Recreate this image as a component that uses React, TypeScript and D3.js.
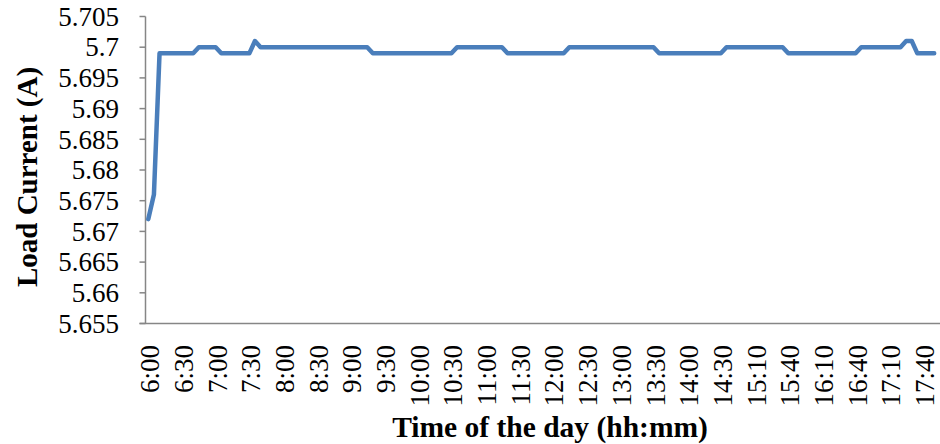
import React from "react";
import * as d3 from "d3";

// Load current readings (A), one per sample, in order
const loadCurrent: number[] = [
  5.672, 5.676,
  5.699, 5.699, 5.699, 5.699, 5.699, 5.699, 5.699,
  5.7, 5.7, 5.7, 5.7,
  5.699, 5.699, 5.699, 5.699, 5.699, 5.699,
  5.701,
  5.7, 5.7, 5.7, 5.7, 5.7, 5.7, 5.7, 5.7, 5.7, 5.7,
  5.7, 5.7, 5.7, 5.7, 5.7, 5.7, 5.7, 5.7, 5.7, 5.7,
  5.699, 5.699, 5.699, 5.699, 5.699, 5.699, 5.699, 5.699,
  5.699, 5.699, 5.699, 5.699, 5.699, 5.699, 5.699,
  5.7, 5.7, 5.7, 5.7, 5.7, 5.7, 5.7, 5.7, 5.7,
  5.699, 5.699, 5.699, 5.699, 5.699, 5.699, 5.699, 5.699, 5.699, 5.699, 5.699,
  5.7, 5.7, 5.7, 5.7, 5.7, 5.7, 5.7, 5.7,
  5.7, 5.7, 5.7, 5.7, 5.7, 5.7, 5.7, 5.7,
  5.699, 5.699, 5.699, 5.699, 5.699, 5.699,
  5.699, 5.699, 5.699, 5.699, 5.699, 5.699,
  5.7, 5.7, 5.7, 5.7, 5.7, 5.7, 5.7, 5.7, 5.7, 5.7, 5.7,
  5.699, 5.699, 5.699, 5.699, 5.699, 5.699, 5.699,
  5.699, 5.699, 5.699, 5.699, 5.699, 5.699,
  5.7, 5.7, 5.7, 5.7, 5.7, 5.7, 5.7, 5.7,
  5.701, 5.701,
  5.699, 5.699, 5.699, 5.699,
];

// Category labels shown on the x axis (every 6th sample)
const timeLabels: string[] = [
  "6:00", "6:30", "7:00", "7:30", "8:00", "8:30", "9:00", "9:30",
  "10:00", "10:30", "11:00", "11:30", "12:00", "12:30", "13:00", "13:30",
  "14:00", "14:30", "15:10", "15:40", "16:10", "16:40", "17:10", "17:40",
];
const labelEvery = 6;

const yTicks: number[] = [5.655, 5.66, 5.665, 5.67, 5.675, 5.68, 5.685, 5.69, 5.695, 5.7, 5.705];
const yDomain: [number, number] = [5.655, 5.705];

const W = 940;
const H = 444;
const plotLeft = 145.5;
const plotRight = 937;
const plotTop = 16.5;
const plotBottom = 323.5;

const FONT = "'Liberation Serif', 'Times New Roman', serif";
const AXIS = "#868686";
const LINE = "#4A7EBB";

export default function App() {
  const n = loadCurrent.length;
  const x = d3
    .scaleBand<number>()
    .domain(d3.range(n))
    .range([plotLeft, plotRight])
    .paddingInner(0)
    .paddingOuter(0);
  const cx = (i: number) => (x(i) as number) + x.bandwidth() / 2;
  const y = d3.scaleLinear().domain(yDomain).range([plotBottom, plotTop]);

  const line = d3
    .line<number>()
    .x((_, i) => cx(i))
    .y((d) => y(d));

  return (
    <svg
      width={W}
      height={H}
      style={{ position: "fixed", left: 0, top: 0, background: "#fff" }}
    >
      <rect x={0} y={0} width={W} height={H} fill="#fff" />
      {/* y axis */}
      <line x1={plotLeft} x2={plotLeft} y1={plotTop} y2={plotBottom} stroke={AXIS} strokeWidth={1.5} />
      {yTicks.map((t) => (
        <g key={t}>
          <line x1={plotLeft - 6} x2={plotLeft} y1={y(t)} y2={y(t)} stroke={AXIS} strokeWidth={1.5} />
          <text
            x={119}
            y={y(t)}
            dy={9.2}
            textAnchor="end"
            fontFamily={FONT}
            fontSize={27}
            fill="#000"
          >
            {String(t)}
          </text>
        </g>
      ))}
      {/* x axis */}
      <line x1={plotLeft - 6} x2={W} y1={plotBottom} y2={plotBottom} stroke={AXIS} strokeWidth={1.5} />
      {timeLabels.map((lab, k) => {
        const px = cx(k * labelEvery);
        const py = 345;
        return (
          <text
            key={lab}
            transform={`translate(${px},${py}) rotate(-90)`}
            dy={11}
            textAnchor="end"
            fontFamily={FONT}
            fontSize={27}
            fill="#000"
          >
            {lab}
          </text>
        );
      })}
      {/* series */}
      <path
        d={line(loadCurrent) || ""}
        fill="none"
        stroke={LINE}
        strokeWidth={4.5}
        strokeLinejoin="round"
        strokeLinecap="round"
      />
      {/* titles */}
      <text
        x={550}
        y={436.5}
        textAnchor="middle"
        fontFamily={FONT}
        fontWeight="bold"
        fontSize={29.5}
        fill="#000"
      >
        Time of the day (hh:mm)
      </text>
      <text
        transform={`translate(37,177) rotate(-90)`}
        textAnchor="middle"
        fontFamily={FONT}
        fontWeight="bold"
        fontSize={29}
        fill="#000"
      >
        Load Current (A)
      </text>
    </svg>
  );
}
